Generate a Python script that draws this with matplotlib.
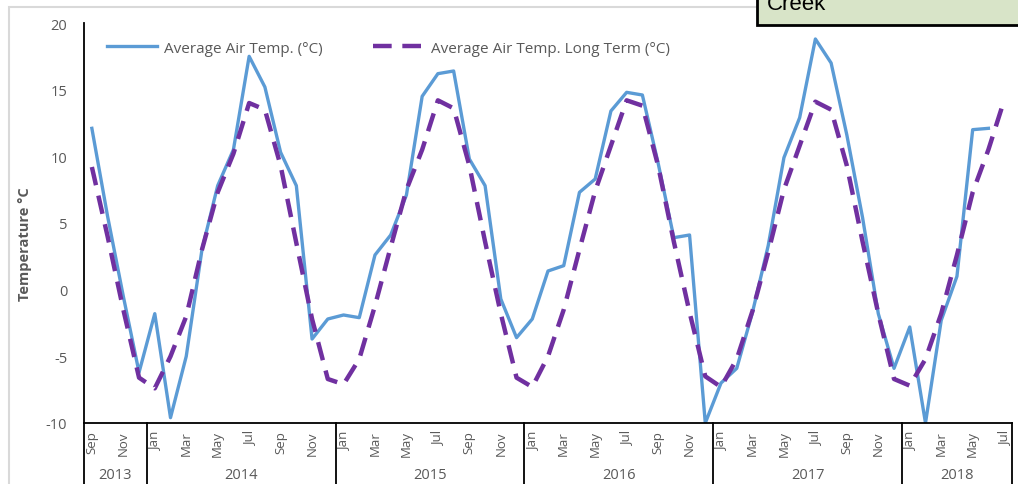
#Average air temperature vs long term average, Sep 2013 - Jul 2018

import matplotlib.pyplot as plt
from matplotlib.patches import Rectangle

plt.rcParams['font.family'] = ['Open Sans', 'DejaVu Sans']
plt.rcParams['axes.unicode_minus'] = False

#Month labels (only every second month is written on the axis)
måneder = ["Sep", "Oct", "Nov", "Dec"] + ["Jan", "Feb", "Mar", "Apr", "May", "Jun",
                                          "Jul", "Aug", "Sep", "Oct", "Nov", "Dec"] * 4 \
          + ["Jan", "Feb", "Mar", "Apr", "May", "Jun", "Jul"]
år = ["2013", "2014", "2015", "2016", "2017", "2018"]
måneder_per_år = [4, 12, 12, 12, 12, 7]

#Average air temp (°C), Sep 2013 - Jun 2018
snitt_temp = [12.1, 5.5, -0.5, -6.2,
              -1.8, -9.6, -5.0, 3.0, 7.8, 10.5, 17.5, 15.2, 10.3, 7.8, -3.7, -2.2,
              -1.9, -2.1, 2.6, 4.1, 7.1, 14.5, 16.2, 16.4, 9.8, 7.8, -0.7, -3.6,
              -2.2, 1.4, 1.8, 7.3, 8.3, 13.4, 14.8, 14.6, 9.5, 3.9, 4.1, -10.0,
              -7.0, -5.9, -1.7, 3.3, 9.9, 12.9, 18.8, 17.0, 11.6, 5.4, -1.8, -5.9,
              -2.8, -10.0, -2.3, 1.0, 12.0, 12.1]

#Long term average air temp (°C), Sep 2013 - Jul 2018
langtid_temp = [9.2, 4.0, -1.5, -6.6,
                -7.4, -5.0, -2.0, 3.0, 7.3, 10.2, 14.0, 13.5, 9.3, 3.5, -2.2, -6.7,
                -7.1, -5.2, -1.2, 3.2, 7.5, 10.5, 14.2, 13.6, 9.3, 3.6, -1.8, -6.6,
                -7.3, -5.0, -1.5, 3.0, 7.4, 10.8, 14.2, 13.8, 9.3, 3.6, -1.7, -6.5,
                -7.3, -5.2, -1.6, 2.8, 7.5, 10.8, 14.1, 13.5, 9.3, 3.6, -1.8, -6.7,
                -7.2, -5.2, -1.8, 2.6, 7.3, 10.5, 14.2]

grå = "#595959"

fig = plt.figure(figsize=(10.18, 4.85), dpi=100)
ax = fig.add_axes([84 / 1018, 61 / 485, 928 / 1018, 400 / 485])

x_snitt = [i + 0.5 for i in range(len(snitt_temp))]
x_langtid = [i + 0.5 for i in range(len(langtid_temp))]

ax.plot(x_snitt, snitt_temp, color="#5b9bd5", lw=2.4, label="Average Air Temp. (°C)")
ax.plot(x_langtid, langtid_temp, color="#7030a0", lw=3.2, dashes=(4.2, 2.4),
        label="Average Air Temp. Long Term (°C)")

ax.set_xlim(0, len(måneder))
ax.set_ylim(-10, 20)
ax.set_yticks([-10, -5, 0, 5, 10, 15, 20])
ax.tick_params(axis="y", length=0, pad=12, labelsize=10.5, labelcolor=grå)
ax.set_xticks([])
ax.set_ylabel("Temperature °C", color=grå, fontsize=10.5, fontweight="bold")
ax.yaxis.set_label_coords(-0.056, 0.45)

for side in ["top", "right"]:
    ax.spines[side].set_visible(False)
ax.spines["left"].set_linewidth(1.3)
ax.spines["bottom"].set_linewidth(1.3)
ax.spines["left"].set_color("black")
ax.spines["bottom"].set_color("black")

#Month labels and year groups under the axis
trans = ax.get_xaxis_transform()
for i, m in enumerate(måneder):
    if i % 2 == 0:
        ax.text(i + 0.5, -0.018, m, transform=trans, rotation=90, ha="center", va="top",
                fontsize=9.5, color=grå)

start = 0
grenser = [0]
for navn, n in zip(år, måneder_per_år):
    ax.text(start + n / 2, -0.128, navn, transform=trans, ha="center", va="center",
            fontsize=10.5, color=grå)
    start += n
    grenser.append(start)
for g in grenser:
    ax.plot([g, g], [0, -0.16], transform=trans, color="black", lw=1.3, clip_on=False)

ax.legend(loc="upper left", bbox_to_anchor=(0.01, 0.99), ncol=2, frameon=False,
          fontsize=11, labelcolor=grå, handlelength=3.3, columnspacing=3.3,
          handletextpad=0.45)

#Outer chart border and the title box that is cut off at the top
fig.patches.append(Rectangle((9 / 1018, -0.1), 1.2, (485 - 8) / 485 + 0.1,
                             transform=fig.transFigure, fill=False,
                             edgecolor="#d9d9d9", lw=1.5))
fig.patches.append(Rectangle((757 / 1018, 459 / 485), 0.3, 0.1,
                             transform=fig.transFigure, facecolor="#d8e4c8",
                             edgecolor="black", lw=2, zorder=5))
fig.text(767 / 1018, 481 / 485, "Creek", fontsize=16, color="black", va="center",
         family=["Liberation Sans", "DejaVu Sans"], zorder=6)

fig.savefig("out.png", dpi=100)
